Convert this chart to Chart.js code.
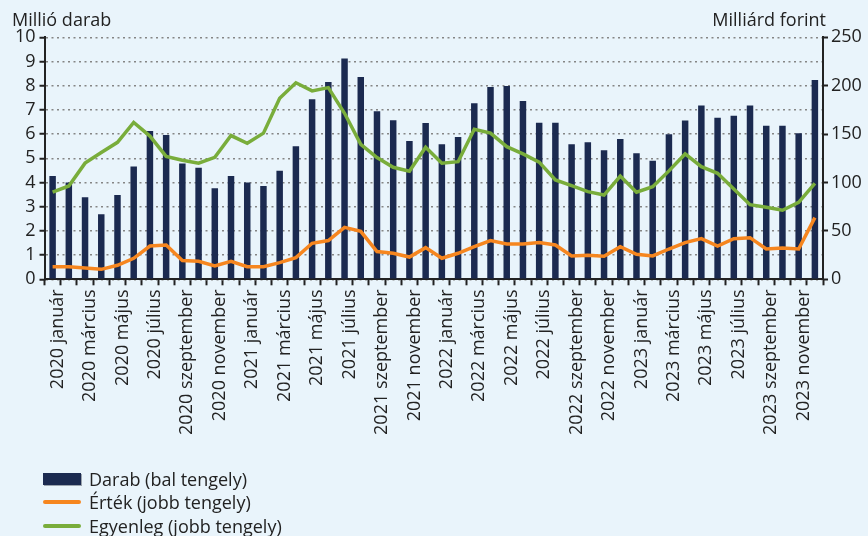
<!DOCTYPE html>
<html lang="hu">
<head>
<meta charset="utf-8">
<script src="https://cdn.jsdelivr.net/npm/chart.js@4/dist/chart.umd.min.js"></script>
<style>
  html, body { margin: 0; padding: 0; background: #e9f4fb; }
  #wrap { position: relative; width: 868px; height: 536px; font-family: 'Open Sans', sans-serif; color: #222; }
  #chart { position: absolute; left: 0; top: 0; }
  .axis-title { position: absolute; top: 7px; font-size: 18px; line-height: 24px; }
  #titleLeft  { left: 12px; }
  #titleRight { right: 42px; }
  #legend { position: absolute; left: 43px; top: 467px; font-size: 18px; }
  .leg-row { display: flex; align-items: center; height: 23.5px; }
  .leg-sw  { width: 38px; margin-right: 8px; }
  .leg-bar { height: 12px; background: #1b2a50; box-shadow: 1px 1px 0 #9aa3ad; }
  .leg-line { height: 4px; border-radius: 2px; }
</style>
</head>
<body>
<div id="wrap">
  <canvas id="chart" width="868" height="536"></canvas>
  <div class="axis-title" id="titleLeft">Millió darab</div>
  <div class="axis-title" id="titleRight">Milliárd forint</div>
  <div id="legend"></div>
</div>
<script>
"use strict";

// ── DATA ────────────────────────────────────
const YEARS  = [2020, 2021, 2022, 2023];
const MONTHS = ["január", "február", "március", "április", "május", "június",
                "július", "augusztus", "szeptember", "október", "november", "december"];

// Darab (millió, bal tengely)
const DARAB = [4.27, 4.0, 3.39, 2.69, 3.48, 4.66, 6.13, 5.96, 4.78, 4.61, 3.76, 4.27,
               4.0, 3.86, 4.49, 5.5, 7.44, 8.15, 9.12, 8.36, 6.94, 6.57, 5.72, 6.46,
               5.58, 5.88, 7.27, 7.95, 7.99, 7.37, 6.47, 6.47, 5.58, 5.66, 5.33, 5.8,
               5.21, 4.9, 5.99, 6.56, 7.18, 6.68, 6.76, 7.18, 6.34, 6.34, 6.03, 8.24];

// Érték (milliárd forint, jobb tengely)
const ERTEK = [13, 13, 11.7, 10.3, 14.5, 21.7, 34.4, 35.5, 19.3, 18.6, 13.8, 18.6,
               13, 13, 17.2, 22.4, 37.2, 40, 53.7, 49.6, 28.6, 26.9, 23, 32.7,
               21.7, 26.9, 33.7, 40, 36.5, 36.5, 37.9, 35.5, 24.1, 24.8, 23.8, 33.7,
               25.8, 24.1, 31.3, 37.9, 42, 34.4, 42, 43, 31.3, 32.4, 31.3, 63.7];

// Egyenleg (milliárd forint, jobb tengely)
const EGYENLEG = [90, 96.4, 120, 131, 141.5, 162, 148, 127, 123, 120, 126, 148.5,
                  140.5, 151, 187, 203, 194.6, 198, 171.5, 139.5, 125.7, 115.7, 111.6, 136.4,
                  120, 121.5, 155, 151, 137, 129.5, 121, 102.6, 96.7, 90.6, 87, 106.7,
                  90, 95.7, 112, 129.5, 116.4, 109.5, 93.3, 77.1, 74.4, 71.3, 79.5, 99.2];

const LABELS = YEARS.flatMap(y => MONTHS.map(m => y + " " + m));

// ── STYLE ───────────────────────────────────
const C_BAR    = "#1b2a50";
const C_ERTEK  = "#f6861f";
const C_EGYEN  = "#79ad3b";
const C_AXIS   = "#222222";
const C_GRID   = "#858585";

Chart.defaults.font.family = "'Open Sans', sans-serif";
Chart.defaults.font.size   = 18;
Chart.defaults.color       = C_AXIS;

/* ══════════════════════════════════════════
   CHART
══════════════════════════════════════════ */
new Chart(document.getElementById("chart"), {
  type: "bar",
  data: {
    labels: LABELS,
    datasets: [{
      label: "Darab (bal tengely)",
      data: DARAB,
      yAxisID: "y",
      backgroundColor: C_BAR,
      categoryPercentage: 1,
      barPercentage: 0.4,
      order: 3,
    }, {
      type: "line",
      label: "Érték (jobb tengely)",
      data: ERTEK,
      yAxisID: "y2",
      borderColor: C_ERTEK,
      borderWidth: 3.5,
      pointRadius: 0,
      tension: 0,
      order: 2,
    }, {
      type: "line",
      label: "Egyenleg (jobb tengely)",
      data: EGYENLEG,
      yAxisID: "y2",
      borderColor: C_EGYEN,
      borderWidth: 3.5,
      pointRadius: 0,
      tension: 0,
      order: 1,
    }]
  },
  options: {
    responsive: false,
    animation: false,
    layout: { padding: { top: 37.3, left: 0, right: 0, bottom: 0 } },
    plugins: { legend: { display: false }, tooltip: { enabled: false } },
    scales: {
      x: {
        afterFit: s => { s.height = 256.7; },
        grid:   { offset: true, drawOnChartArea: false, drawTicks: true,
                  tickLength: 6, tickColor: C_AXIS, tickWidth: 2 },
        border: { color: C_AXIS, width: 2 },
        ticks:  { autoSkip: false, minRotation: 90, maxRotation: 90, padding: 4, labelOffset: 5,
                  callback: (v, i) => i % 2 === 0 ? LABELS[i] : "" },
      },
      y: {
        position: "left",
        min: 0, max: 10,
        afterFit: s => { s.width = 44.5; },
        grid:   { color: C_GRID, lineWidth: 1.5, tickLength: 5, tickColor: C_AXIS,
                  tickWidth: 2, tickBorderDash: [] },
        border: { color: C_AXIS, width: 2, dash: [2, 3.5] },
        ticks:  { stepSize: 1, autoSkip: false, padding: 4 },
      },
      y2: {
        position: "right",
        min: 0, max: 250,
        afterFit: s => { s.width = 45; },
        grid:   { drawOnChartArea: false, tickLength: 5, tickColor: C_AXIS, tickWidth: 2 },
        border: { color: C_AXIS, width: 2 },
        ticks:  { stepSize: 50, autoSkip: false, padding: 3 },
      }
    }
  }
});

/* ══════════════════════════════════════════
   LEGEND (HTML)
══════════════════════════════════════════ */
const legendItems = [
  { text: "Darab (bal tengely)",     cls: "leg-bar",  color: C_BAR },
  { text: "Érték (jobb tengely)",    cls: "leg-line", color: C_ERTEK },
  { text: "Egyenleg (jobb tengely)", cls: "leg-line", color: C_EGYEN },
];
document.getElementById("legend").innerHTML = legendItems.map(it =>
  `<div class="leg-row">
     <span class="leg-sw ${it.cls}" style="background:${it.color}"></span>
     <span>${it.text}</span>
   </div>`
).join("");
</script>
</body>
</html>
